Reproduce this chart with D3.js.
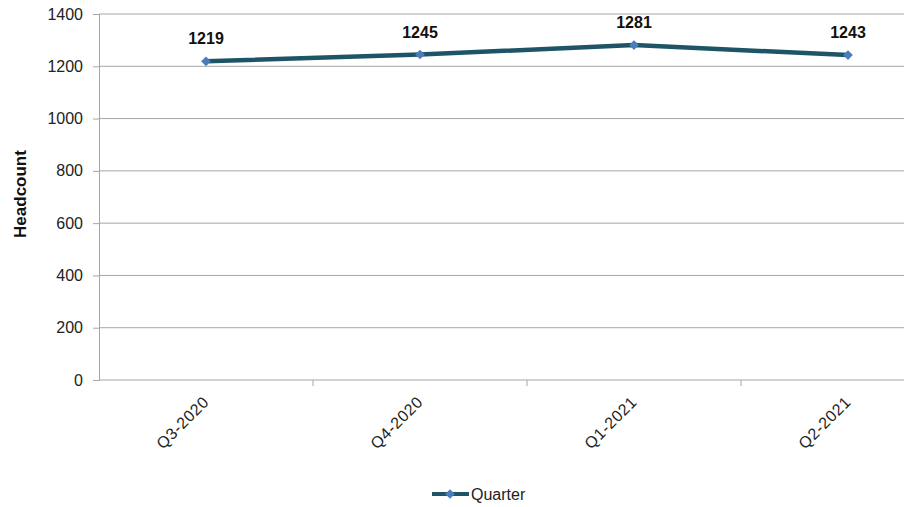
<!DOCTYPE html>
<html>
<head>
<meta charset="utf-8">
<script src="https://cdn.jsdelivr.net/npm/d3@7"></script>
<style>
  html, body { margin: 0; padding: 0; background: #fff; }
  svg { display: block; font-family: "Liberation Sans", Arial, sans-serif; }
</style>
</head>
<body>
<svg id="chart" width="904" height="507"></svg>
<script>
// Quarterly headcount
const quarters = ["Q3-2020", "Q4-2020", "Q1-2021", "Q2-2021"];
const headcount = [1219, 1245, 1281, 1243];
const yTicks = [0, 200, 400, 600, 800, 1000, 1200, 1400];
const seriesName = "Quarter";

const svg = d3.select("#chart");
const margin = { left: 99, top: 14 };
const plotW = 856, plotH = 366;
const fs = 16;

const x = d3.scaleBand().domain(quarters).range([margin.left, margin.left + plotW]);
const y = d3.scaleLinear().domain([0, 1400]).range([margin.top + plotH, margin.top]);

// horizontal gridlines
svg.append("g").selectAll("line").data(yTicks.filter(d => d > 0)).join("line")
  .attr("x1", margin.left).attr("x2", margin.left + plotW)
  .attr("y1", d => y(d)).attr("y2", d => y(d))
  .attr("stroke", "#a6a6a6").attr("stroke-width", 1);

// y axis
const yAxis = svg.append("g").attr("transform", `translate(${margin.left},0)`)
  .call(d3.axisLeft(y).tickValues(yTicks).tickSize(6).tickPadding(10).tickFormat(d3.format("d")));
yAxis.select(".domain").attr("stroke", "#a6a6a6");
yAxis.selectAll(".tick line").attr("stroke", "#a6a6a6");
yAxis.selectAll("text").attr("font-size", fs).attr("fill", "#222")
  .style("font-family", "'Liberation Sans', Arial, sans-serif");

// x axis with ticks between categories
const xAxisG = svg.append("g").attr("transform", `translate(0,${margin.top + plotH})`);
xAxisG.append("line").attr("x1", margin.left).attr("x2", margin.left + plotW)
  .attr("stroke", "#a6a6a6");
xAxisG.selectAll("line.tk").data(quarters.slice(1)).join("line").attr("class", "tk")
  .attr("x1", d => x(d)).attr("x2", d => x(d)).attr("y1", 0).attr("y2", 6)
  .attr("stroke", "#a6a6a6");
xAxisG.selectAll("text").data(quarters).join("text")
  .attr("transform", d => `translate(${x(d) + x.bandwidth() / 2},${19}) rotate(-45)`)
  .attr("text-anchor", "end").attr("dy", "0.35em")
  .attr("font-size", fs).attr("letter-spacing", "0.6px").attr("fill", "#222")
  .text(d => d);

// y axis title
svg.append("text")
  .attr("transform", `translate(26,${margin.top + plotH / 2 - 3}) rotate(-90)`)
  .attr("text-anchor", "middle").attr("font-size", 17).attr("font-weight", "bold")
  .attr("fill", "#111").text("Headcount");

// series line
const cx = d => x(d) + x.bandwidth() / 2;
const pts = quarters.map((q, i) => [cx(q), y(headcount[i])]);
svg.append("path").attr("d", d3.line()(pts))
  .attr("fill", "none").attr("stroke", "#1d5566").attr("stroke-width", 4.5)
  .attr("stroke-linejoin", "round");

// diamond markers
const diamond = d3.symbol().type(d3.symbolDiamond2).size(60);
svg.append("g").selectAll("path").data(pts).join("path")
  .attr("transform", d => `translate(${d[0]},${d[1]})`)
  .attr("d", diamond).attr("fill", "#4a7ebb");

// value labels
svg.append("g").selectAll("text").data(quarters).join("text")
  .attr("x", (d, i) => cx(d)).attr("y", (d, i) => y(headcount[i]) - 17)
  .attr("text-anchor", "middle").attr("font-size", fs).attr("font-weight", "bold")
  .attr("fill", "#111").text((d, i) => headcount[i]);

// legend
const lg = svg.append("g").attr("transform", "translate(432,494)");
lg.append("line").attr("x1", 0).attr("x2", 37).attr("stroke", "#1d5566").attr("stroke-width", 4);
lg.append("path").attr("transform", "translate(18,0)").attr("d", diamond).attr("fill", "#4a7ebb");
lg.append("text").attr("x", 39).attr("dy", "0.35em").attr("font-size", fs).attr("fill", "#222").text(seriesName);
</script>
</body>
</html>
